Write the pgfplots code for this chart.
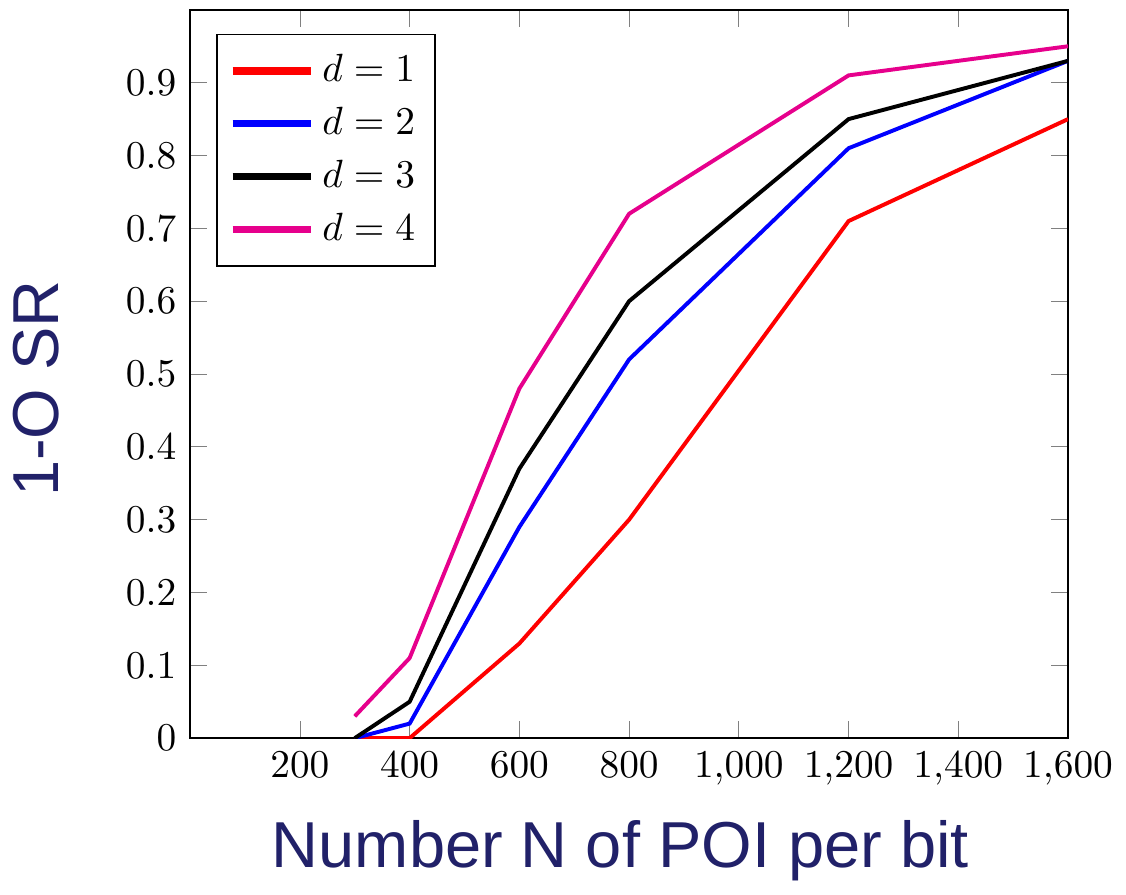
\documentclass[border=0pt]{standalone}
\usepackage{fontspec}
\usepackage{pgfplots}
\pgfplotsset{compat=1.18}
\newfontfamily\arial{Liberation Sans}
\definecolor{labnavy}{RGB}{33,33,105}
\definecolor{pinkmag}{RGB}{230,0,140}

\begin{document}
\begin{tikzpicture}
\begin{axis}[
    name=ax,
    scale only axis,
    width=223pt, height=185pt,
    xmin=0, xmax=1600, ymin=0, ymax=1,
    xtick={200,400,600,800,1000,1200,1400,1600},
    ytick={0,0.1,0.2,0.3,0.4,0.5,0.6,0.7,0.8,0.9},
    yticklabel style={/pgf/number format/fixed},
    xlabel={\arial\fontsize{16.5}{19}\selectfont Number N of POI per bit},
    ylabel={\arial\fontsize{16.5}{19}\selectfont 1-O SR},
    xlabel style={at={(axis description cs:0.49,-0.178)}, anchor=base, text=labnavy},
    ylabel style={at={(axis description cs:-0.15,0.48)}, anchor=base, text=labnavy},
    legend style={at={(axis description cs:0.03,0.967)}, anchor=north west,
        draw=black, row sep=1pt, inner sep=3pt},
    legend cell align=left,
    legend image code/.code={\draw[line width=1.8pt] (0cm,0cm) -- (0.7cm,0cm);},
]
\addplot[red, line width=1pt] coordinates {(300,0) (400,0) (600,0.13) (800,0.30) (1200,0.71) (1600,0.85)};
\addplot[blue, line width=1pt] coordinates {(300,0) (400,0.02) (600,0.29) (800,0.52) (1200,0.81) (1600,0.93)};
\addplot[black, line width=1pt] coordinates {(300,0) (400,0.05) (600,0.37) (800,0.60) (1200,0.85) (1600,0.93)};
\addplot[pinkmag, line width=1pt] coordinates {(300,0.03) (400,0.11) (600,0.48) (800,0.72) (1200,0.91) (1600,0.95)};
\legend{$d=1$,$d=2$,$d=3$,$d=4$}
\end{axis}
\path (ax.north west) ++(0,2.5pt);
\end{tikzpicture}
\end{document}
